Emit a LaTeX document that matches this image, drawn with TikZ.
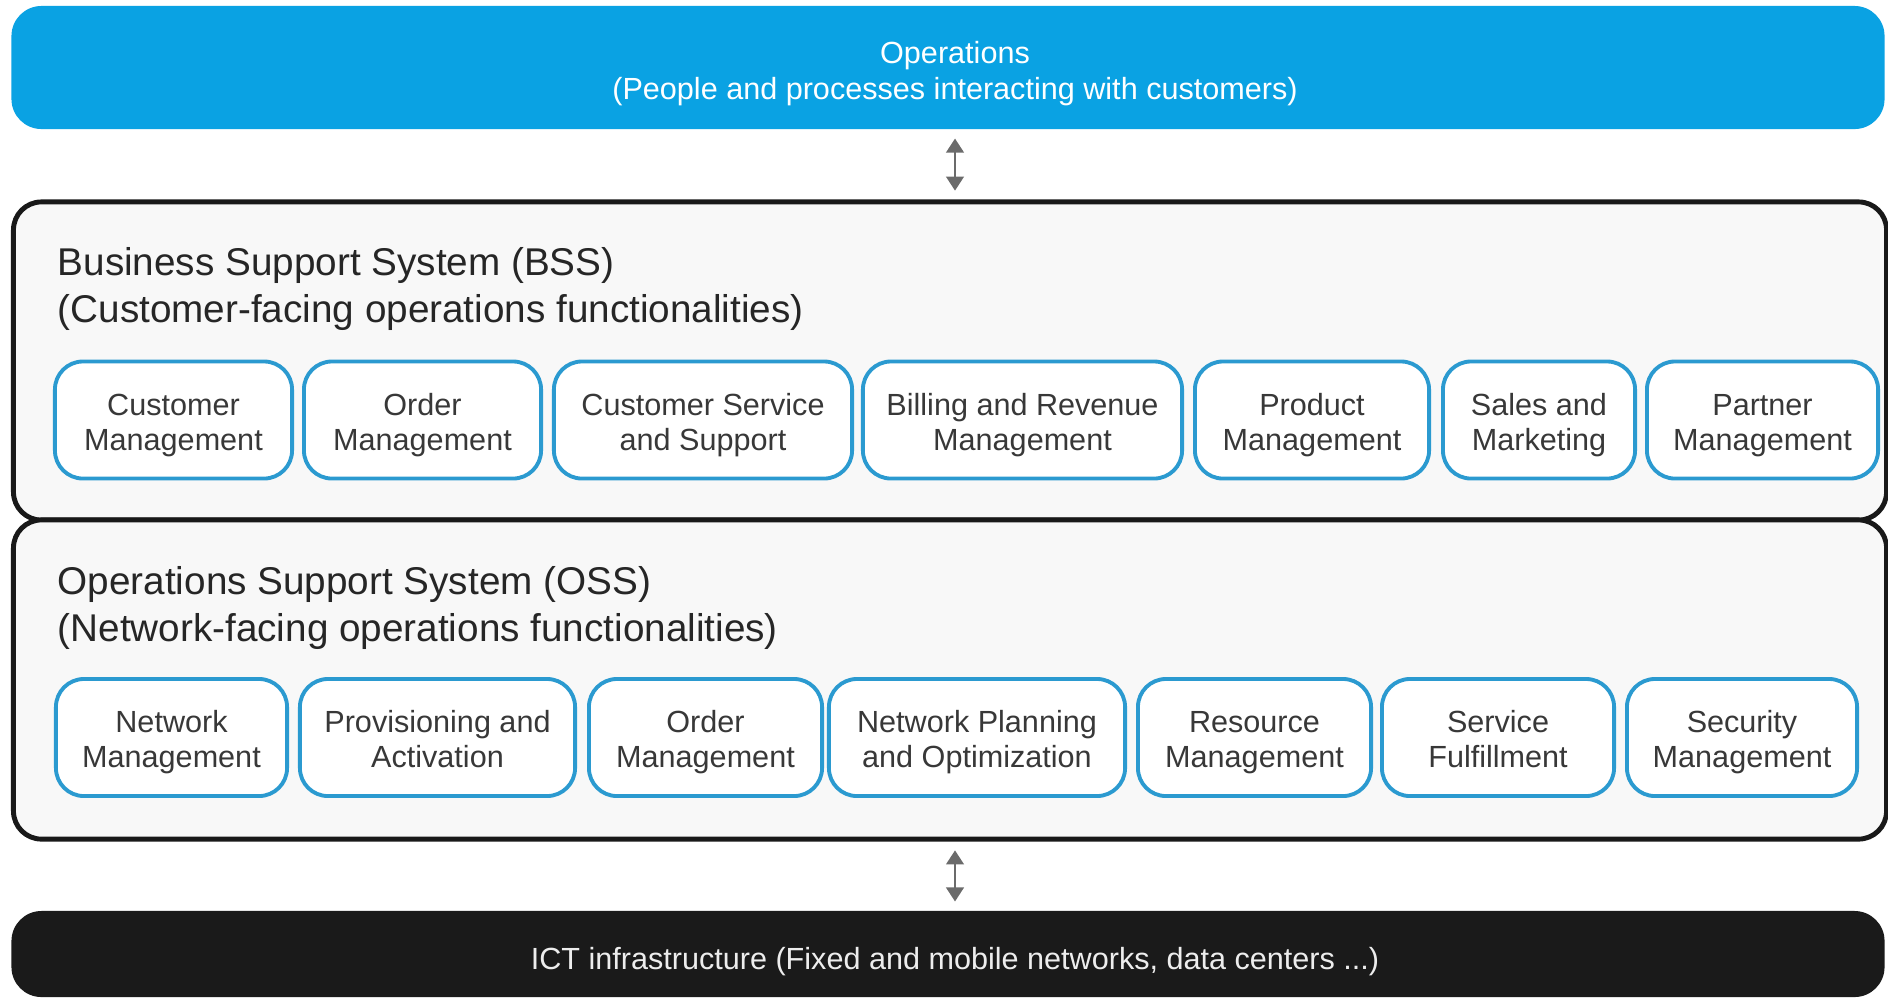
\documentclass[tikz,border=0pt]{standalone}
\usepackage{fontspec}
\setmainfont{Liberation Sans}
\usetikzlibrary{arrows.meta}
\definecolor{opsblue}{HTML}{0AA2E3}
\definecolor{funcblue}{HTML}{2B9AD0}
\definecolor{layergray}{HTML}{F8F8F8}
\definecolor{infrablack}{HTML}{1A1A1A}
\definecolor{arrowgray}{HTML}{6B6B6B}
\newcommand{\fnlines}[2]{\rule{0pt}{10.2pt}#1\\#2\strut}
\tikzset{
  func/.style={draw=funcblue,line width=1.1pt,fill=white,rounded corners=0.28cm,
    minimum height=1.17cm,align=center,inner sep=0pt,
    font=\fontsize{8.7}{10}\selectfont,text=black!78},
  layer/.style={draw=black!90,line width=1.4pt,fill=layergray,rounded corners=0.28cm,inner sep=0pt},
  bar/.style={rounded corners=0.3cm,inner sep=0pt,minimum width=18.72cm},
  updown/.style={{Triangle[width=5pt,length=4pt]}-{Triangle[width=5pt,length=4pt]},
    draw=arrowgray,line width=0.7pt,shorten <=2.5pt,shorten >=2.5pt},
  layertitle/.style={anchor=west,align=left,inner sep=0pt,
    font=\fontsize{11}{13.1}\selectfont,text=black!85}
}
\begin{document}
\begin{tikzpicture}[x=0.01cm,y=-0.01cm]
\useasboundingbox (0,0) rectangle (1888,999);
\coordinate (axis) at (955,0);
  \node[bar,fill=opsblue,minimum height=1.23cm] (ops) at (948,67.5) {};
  \node[align=center,text=white,font=\fontsize{8.7}{10.2}\selectfont] (opstext) at (955,74)
    {Operations\\(People and processes interacting with customers)};
  \node[layer,minimum width=18.72cm,minimum height=3.18cm] (bss) at (950,361) {};
  \node[layer,minimum width=18.72cm,minimum height=3.19cm] (oss) at (950,679.5) {};
  \node[bar,fill=infrablack,minimum height=0.86cm] (infra) at (948,954) {};
  \node[text=white!93!black,font=\fontsize{8.7}{10.2}\selectfont] (infratext) at (955,962)
    {ICT infrastructure (Fixed and mobile networks, data centers ...)};
  \draw[updown] (ops.south -| axis) -- (bss.north -| axis);
  \draw[updown] (oss.south -| axis) -- (infra.north -| axis);
  \node[layertitle] (bsstitle) at (57,289)
    {Business Support System (BSS)\\(Customer-facing operations functionalities)};
  \node[layertitle] (osstitle) at (57,608)
    {Operations Support System (OSS)\\(Network-facing operations functionalities)};
  \node[func,minimum width=2.37cm] (custmgmt) at (173.5,420) {\fnlines{Customer}{Management}};
  \node[func,minimum width=2.37cm] (ordermgmt) at (422.5,420) {\fnlines{Order}{Management}};
  \node[func,minimum width=2.98cm] (custservice) at (703,420) {\fnlines{Customer Service}{and Support}};
  \node[func,minimum width=3.19cm] (billing) at (1022.5,420) {\fnlines{Billing and Revenue}{Management}};
  \node[func,minimum width=2.34cm] (prodmgmt) at (1312,420) {\fnlines{Product}{Management}};
  \node[func,minimum width=1.92cm] (sales) at (1539,420) {\fnlines{Sales and}{Marketing}};
  \node[func,minimum width=2.31cm] (partner) at (1762.5,420) {\fnlines{Partner}{Management}};
  \node[func,minimum width=2.31cm] (netmgmt) at (171.5,737.5) {\fnlines{Network}{Management}};
  \node[func,minimum width=2.75cm] (provisioning) at (437.5,737.5) {\fnlines{Provisioning and}{Activation}};
  \node[func,minimum width=2.33cm] (ossorder) at (705.5,737.5) {\fnlines{Order}{Management}};
  \node[func,minimum width=2.96cm] (planning) at (977,737.5) {\fnlines{Network Planning}{and Optimization}};
  \node[func,minimum width=2.33cm] (resource) at (1254.5,737.5) {\fnlines{Resource}{Management}};
  \node[func,minimum width=2.32cm] (fulfillment) at (1498,737.5) {\fnlines{Service}{Fulfillment}};
  \node[func,minimum width=2.30cm] (security) at (1742,737.5) {\fnlines{Security}{Management}};
\end{tikzpicture}
\end{document}
